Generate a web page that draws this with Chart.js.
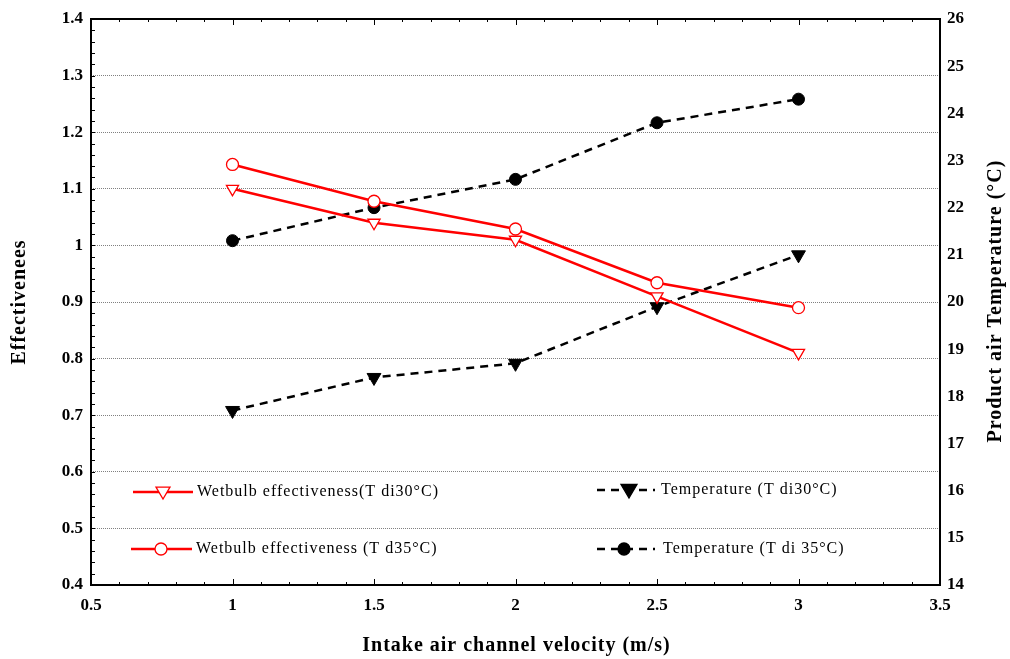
<!DOCTYPE html>
<html>
<head>
<meta charset="utf-8">
<script src="https://cdn.jsdelivr.net/npm/chart.js@4"></script>
<style>
  html, body { margin: 0; padding: 0; background: #fff; }
  #wrap { width: 1010px; height: 659px; }
</style>
</head>
<body>
<div id="wrap"><canvas id="chart" width="1010" height="659"></canvas></div>
<script>
const velocity = [1, 1.5, 2, 2.5, 3];
const effTdi30 = [1.10, 1.04, 1.01, 0.91, 0.81];
const effTd35 = [1.143, 1.078, 1.029, 0.934, 0.890];
const tempTdi30 = [17.7, 18.4, 18.7, 19.9, 21.0];
const tempTdi35 = [21.3, 22.0, 22.6, 23.8, 24.3];

const labels = [
  "Wetbulb effectiveness(T di30°C)",
  "Wetbulb effectiveness (T d35°C)",
  "Temperature (T di30°C)",
  "Temperature (T di 35°C)"
];
const xTitle = "Intake air channel velocity (m/s)";
const yTitle = "Effectivenees";
const y1Title = "Product air Temperature (°C)";

const serif = "'Liberation Serif', 'Times New Roman', serif";

function pts(ys) {
  return velocity.map((x, i) => ({ x: x, y: ys[i] }));
}

// legend spots: [line start, line end, marker x, text x, y]
const legendSpots = [
  [133, 193, 163, 197, 492],
  [131, 192, 161, 196, 549],
  [597, 655, 629, 661, 490],
  [597, 655, 624, 663, 549]
];

function drawMarker(ctx, style, x, y, r, stroke, fill) {
  ctx.save();
  ctx.beginPath();
  if (style === "circle") {
    ctx.arc(x, y, r, 0, Math.PI * 2);
  } else {
    ctx.moveTo(x - r, y - r * 0.7);
    ctx.lineTo(x + r, y - r * 0.7);
    ctx.lineTo(x, y + r * 1.0);
    ctx.closePath();
  }
  ctx.fillStyle = fill;
  ctx.fill();
  ctx.lineWidth = 1.3;
  ctx.strokeStyle = stroke;
  ctx.setLineDash([]);
  ctx.stroke();
  ctx.restore();
}

function vText(ctx, text, x, y) {
  ctx.save();
  ctx.translate(x, y);
  ctx.rotate(-Math.PI / 2);
  ctx.fillText(text, 0, 0);
  ctx.restore();
}

const framePlugin = {
  id: "frame",
  afterDraw(chart) {
    const ctx = chart.ctx;
    const a = chart.chartArea;
    const xs = chart.scales.x, ys = chart.scales.y;
    ctx.save();
    ctx.strokeStyle = "#000";
    ctx.lineWidth = 1;
    ctx.setLineDash([]);
    // minor/major ticks on bottom and top
    for (let i = 0; i <= 30; i++) {
      const v = 0.5 + i * 0.1;
      const px = Math.round(xs.getPixelForValue(v)) + 0.5;
      const len = (i % 5 === 0) ? 6 : 3;
      ctx.beginPath();
      ctx.moveTo(px, a.bottom); ctx.lineTo(px, a.bottom - len);
      ctx.moveTo(px, a.top); ctx.lineTo(px, a.top + len);
      ctx.stroke();
    }
    // left axis ticks
    for (let i = 0; i <= 50; i++) {
      const v = 0.4 + i * 0.02;
      const py = Math.round(ys.getPixelForValue(v)) + 0.5;
      ctx.beginPath();
      ctx.moveTo(a.left, py); ctx.lineTo(a.left + 4, py);
      ctx.stroke();
    }
    // frame
    ctx.lineWidth = 2;
    ctx.strokeRect(a.left, a.top, a.right - a.left, a.bottom - a.top);

    // axis titles
    ctx.font = "bold 20px " + serif;
    ctx.fillStyle = "#000";
    ctx.textAlign = "center";
    ctx.textBaseline = "middle";
    ctx.letterSpacing = "1px";
    ctx.fillText(xTitle, (a.left + a.right) / 2 + 1, 646);
    vText(ctx, yTitle, 20, 302);
    vText(ctx, y1Title, 996, 301);

    // legend
    chart.data.datasets.forEach((ds, i) => {
      const s = legendSpots[i];
      ctx.save();
      ctx.strokeStyle = ds.borderColor;
      ctx.lineWidth = 2.5;
      ctx.setLineDash(ds.borderDash || []);
      ctx.beginPath();
      ctx.moveTo(s[0], s[4]); ctx.lineTo(s[1], s[4]);
      ctx.stroke();
      ctx.restore();
      drawMarker(ctx, ds.pointStyle, s[2], s[4], ds.pointRadius,
        ds.pointBorderColor, ds.pointBackgroundColor);
      ctx.font = "16px " + serif;
      ctx.letterSpacing = "1px";
      ctx.fillStyle = "#000";
      ctx.textAlign = "left";
      ctx.textBaseline = "middle";
      ctx.fillText(ds.label, s[3], s[4]);
    });
    ctx.restore();
  }
};

const tickFont = { family: serif, size: 17, weight: "bold" };
const fmt = v => String(+(+v).toFixed(1));

new Chart(document.getElementById("chart"), {
  type: "line",
  data: {
    datasets: [
      {
        label: labels[0], data: pts(effTdi30), yAxisID: "y",
        borderColor: "#ff0000", borderWidth: 2.5,
        pointStyle: "triangle", pointRotation: 180, pointRadius: 7,
        pointBorderColor: "#ff0000", pointBackgroundColor: "#fff", pointBorderWidth: 1.3
      },
      {
        label: labels[1], data: pts(effTd35), yAxisID: "y",
        borderColor: "#ff0000", borderWidth: 2.5,
        pointStyle: "circle", pointRadius: 6,
        pointBorderColor: "#ff0000", pointBackgroundColor: "#fff", pointBorderWidth: 1.3
      },
      {
        label: labels[2], data: pts(tempTdi30), yAxisID: "y1",
        borderColor: "#000", borderWidth: 2.5, borderDash: [8, 6],
        pointStyle: "triangle", pointRotation: 180, pointRadius: 8,
        pointBorderColor: "#000", pointBackgroundColor: "#000", pointBorderWidth: 1
      },
      {
        label: labels[3], data: pts(tempTdi35), yAxisID: "y1",
        borderColor: "#000", borderWidth: 2.5, borderDash: [8, 6],
        pointStyle: "circle", pointRadius: 6,
        pointBorderColor: "#000", pointBackgroundColor: "#000", pointBorderWidth: 1
      }
    ]
  },
  options: {
    responsive: false,
    animation: false,
    layout: { padding: { top: 19, left: 0, right: 0, bottom: 0 } },
    plugins: { legend: { display: false }, tooltip: { enabled: false } },
    scales: {
      x: {
        type: "linear", min: 0.5, max: 3.5,
        ticks: { stepSize: 0.5, callback: fmt, font: tickFont, color: "#000", padding: 10, maxRotation: 0 },
        grid: { display: false, drawTicks: false },
        border: { display: false },
        afterFit(s) { s.height = 74; }
      },
      y: {
        position: "left", min: 0.4, max: 1.4,
        ticks: { stepSize: 0.1, callback: fmt, font: tickFont, color: "#000", padding: 8 },
        grid: {
          drawTicks: false, lineWidth: 1,
          color: c => (c.tick && c.tick.value > 0.41 && c.tick.value < 1.39) ? "#808080" : "rgba(0,0,0,0)"
        },
        border: { display: false, dash: [1, 1] },
        afterFit(s) { s.width = 91; }
      },
      y1: {
        position: "right", min: 14, max: 26,
        ticks: { stepSize: 1, font: tickFont, color: "#000", padding: 7 },
        grid: { drawOnChartArea: false, drawTicks: false },
        border: { display: false },
        afterFit(s) { s.width = 70; }
      }
    }
  },
  plugins: [framePlugin]
});
</script>
</body>
</html>
